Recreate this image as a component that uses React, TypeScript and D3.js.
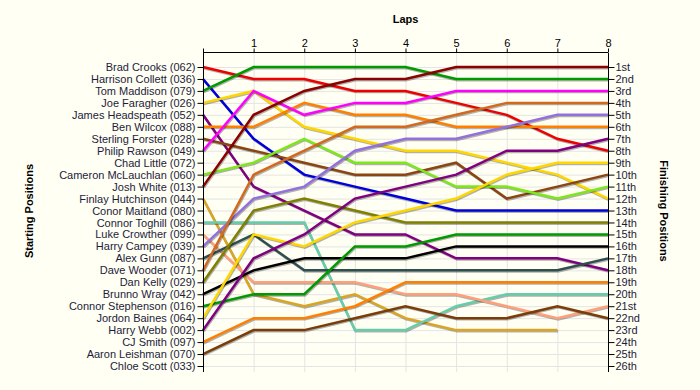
import React, { useEffect, useRef } from 'react';
import * as d3 from 'd3';

// starting grid, top to bottom
const startLabels = [
  'Brad Crooks (062)', 'Harrison Collett (036)', 'Tom Maddison (079)', 'Joe Faragher (026)',
  'James Headspeath (052)', 'Ben Wilcox (088)', 'Sterling Forster (028)', 'Philip Rawson (049)',
  'Chad Little (072)', 'Cameron McLauchlan (060)', 'Josh White (013)', 'Finlay Hutchinson (044)',
  'Conor Maitland (080)', 'Connor Toghill (086)', 'Luke Crowther (099)', 'Harry Campey (039)',
  'Alex Gunn (087)', 'Dave Wooder (071)', 'Dan Kelly (029)', 'Brunno Wray (042)',
  'Connor Stephenson (016)', 'Jordon Baines (064)', 'Harry Webb (002)', 'CJ Smith (097)',
  'Aaron Leishman (070)', 'Chloe Scott (033)',
];

const finishLabels = [
  '1st', '2nd', '3rd', '4th', '5th', '6th', '7th', '8th', '9th', '10th', '11th', '12th', '13th',
  '14th', '15th', '16th', '17th', '18th', '19th', '20th', '21st', '22nd', '23rd', '24th', '25th', '26th',
];

const laps = [0, 1, 2, 3, 4, 5, 6, 7, 8];
const lapTickLabels = [1, 2, 3, 4, 5, 6, 7, 8];

// position after each lap (lap 0 = grid), null = no data
const positions: (number | null)[][] = [
  [1, 2, 2, 3, 3, 4, 5, 7, 8],
  [2, 7, 10, 11, 12, 13, 13, 13, 13],
  [3, 1, 1, 1, 1, 2, 2, 2, 2],
  [4, 3, 6, 7, 8, 8, 9, 10, 12],
  [5, 11, 13, 15, 15, 17, 17, 17, 18],
  [6, 6, 4, 5, 5, 6, 6, 6, 6],
  [7, 8, 9, 10, 10, 9, 12, 11, 10],
  [8, 3, 5, 4, 4, 3, 3, 3, 3],
  [],
  [10, 9, 7, 9, 9, 11, 11, 12, 11],
  [11, 5, 3, 2, 2, 1, 1, 1, 1],
  [12, 20, 21, 20, 22, 23, 23, 23, null],
  [],
  [14, 14, 14, 23, 23, 21, 20, 20, 20],
  [15, 19, 19, 19, 20, 20, 21, 22, 21],
  [16, 12, 11, 8, 7, 7, 6, 5, 5],
  [17, 15, 18, 18, 18, 18, 18, 18, 17],
  [18, 10, 8, 6, 6, 5, 4, 4, 4],
  [19, 13, 12, 13, 14, 14, 14, 14, 14],
  [20, 18, 17, 17, 17, 16, 16, 16, 16],
  [21, 20, 20, 16, 16, 15, 15, 15, 15],
  [22, 15, 16, 14, 13, 12, 10, 9, 9],
  [23, 17, 15, 12, 11, 10, 8, 8, 7],
  [24, 22, 22, 21, 19, 19, 19, 19, 19],
  [25, 23, 23, 22, 21, 22, 22, 21, 22],
  [],
];

const lineColors = [
  '#EE0000', '#0000DD', '#009A00', '#FFD700', '#800080', '#FF8000', '#8B4513', '#FF00FF',
  'none', '#7CE81A', '#8B0000', '#DAA520', 'none', '#66CDAA', '#FFA07A', '#9370DB',
  '#2F4F4F', '#D2691E', '#808000', '#000000', '#009A00', '#FFD700', '#800080', '#FF8000',
  '#7A3D0A', 'none',
];

const App = () => {
  const svgRef = useRef<SVGSVGElement | null>(null);

  useEffect(() => {
    if (!svgRef.current) return;
    const svg = d3.select(svgRef.current);
    svg.selectAll('*').remove();

    const width = 700;
    const height = 390;
    const left = 203;
    const right = 608;
    const top = 53;
    const bottom = 372;
    const font = '"Liberation Sans", Arial, sans-serif';
    const textColor = '#1c1c3c';

    svg.attr('width', width).attr('height', height);

    svg.append('rect')
      .attr('width', width)
      .attr('height', height)
      .attr('fill', '#FFFFF4');

    const x = d3.scaleLinear().domain([0, 8]).range([left, right]);
    const y = d3.scaleLinear().domain([1, 26]).range([67, 366]);
    const rows = d3.range(1, 27);

    // grid
    svg.append('g')
      .selectAll('line')
      .data(rows)
      .enter()
      .append('line')
      .attr('x1', left)
      .attr('x2', right)
      .attr('y1', d => y(d) + 0.5)
      .attr('y2', d => y(d) + 0.5)
      .attr('stroke', '#e4e4e4');

    svg.append('g')
      .selectAll('line')
      .data(laps)
      .enter()
      .append('line')
      .attr('x1', d => x(d) + 0.5)
      .attr('x2', d => x(d) + 0.5)
      .attr('y1', top)
      .attr('y2', bottom)
      .attr('stroke', '#e4e4e4');

    // lines
    const line = d3.line<number | null>()
      .defined(d => d !== null)
      .x((d, i) => x(laps[i]))
      .y(d => y(d as number));

    const series = positions
      .map((p, i) => ({ p, color: lineColors[i] }))
      .filter(s => s.p.length > 0);

    const linesG = svg.append('g');
    series.forEach(s => {
      linesG.append('path')
        .datum(s.p)
        .attr('fill', 'none')
        .attr('stroke', '#000')
        .attr('stroke-opacity', 0.3)
        .attr('stroke-width', 2.5)
        .attr('transform', 'translate(0.8,1.2)')
        .attr('d', line);
      linesG.append('path')
        .datum(s.p)
        .attr('fill', 'none')
        .attr('stroke', s.color)
        .attr('stroke-width', 2.5)
        .attr('d', line);
    });

    // left axis
    const yLeft = d3.axisLeft(y)
      .tickValues(rows)
      .tickSize(6)
      .tickFormat(d => startLabels[(d as number) - 1]);
    const gl = svg.append('g')
      .attr('transform', `translate(${left + 0.5},0)`)
      .call(yLeft as any);
    gl.select('.domain').attr('d', `M0,${top}V${bottom}`).attr('stroke', '#000');
    gl.selectAll('text').attr('font-family', font).attr('font-size', 11).attr('fill', textColor).attr('x', -8);
    gl.selectAll('.tick line').attr('stroke', '#000');

    // right axis
    const yRight = d3.axisRight(y)
      .tickValues(rows)
      .tickSize(6)
      .tickFormat(d => finishLabels[(d as number) - 1]);
    const gr = svg.append('g')
      .attr('transform', `translate(${right + 0.5},0)`)
      .call(yRight as any);
    gr.select('.domain').attr('d', `M0,${top}V${bottom}`).attr('stroke', '#000');
    gr.selectAll('text').attr('font-family', font).attr('font-size', 11).attr('fill', textColor).attr('x', 7);
    gr.selectAll('.tick line').attr('stroke', '#000');

    // top axis
    const xTop = d3.axisTop(x)
      .tickValues(laps)
      .tickSize(4)
      .tickFormat(d => (lapTickLabels.includes(d as number) ? String(d) : ''));
    const gt = svg.append('g')
      .attr('transform', `translate(0,${top - 0.5})`)
      .call(xTop as any);
    gt.select('.domain').attr('d', `M${left},0H${right}`).attr('stroke', '#000');
    gt.selectAll('text').attr('font-family', font).attr('font-size', 11).attr('fill', '#000').attr('y', -6);
    gt.selectAll('.tick line').attr('stroke', '#000');

    // titles
    svg.append('text')
      .attr('x', (left + right) / 2)
      .attr('y', 23)
      .attr('text-anchor', 'middle')
      .attr('font-family', font)
      .attr('font-size', 11)
      .attr('font-weight', 'bold')
      .text('Laps');

    svg.append('text')
      .attr('transform', 'translate(33,211) rotate(-90)')
      .attr('text-anchor', 'middle')
      .attr('font-family', font)
      .attr('font-size', 11)
      .attr('font-weight', 'bold')
      .text('Starting Positions');

    svg.append('text')
      .attr('transform', 'translate(660,211) rotate(90)')
      .attr('text-anchor', 'middle')
      .attr('font-family', font)
      .attr('font-size', 11)
      .attr('font-weight', 'bold')
      .text('Finishing Positions');
  }, []);

  return (
    <div style={{ position: 'absolute', left: 0, top: 0 }}>
      <svg ref={svgRef} style={{ display: 'block' }}></svg>
    </div>
  );
};

export default App;
